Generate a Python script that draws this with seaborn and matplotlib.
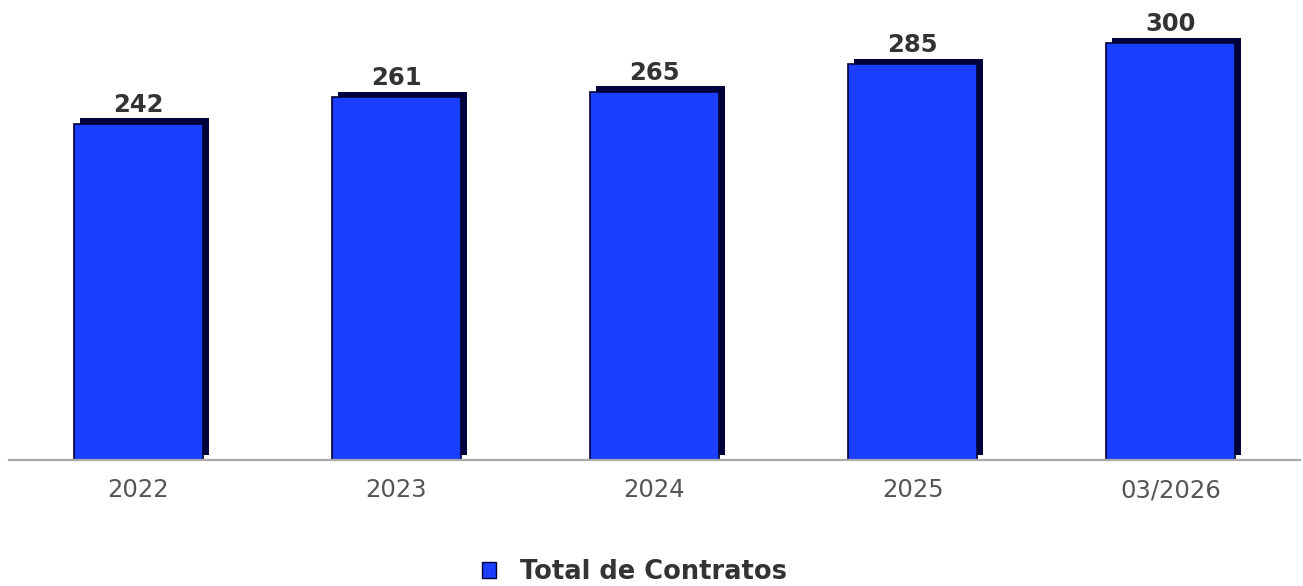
import pandas as pd
import matplotlib.pyplot as plt
import matplotlib.patheffects as pe
from matplotlib.patches import Patch
import seaborn as sns

# --- dados ---
periodos = ['2022', '2023', '2024', '2025', '03/2026']
total_contratos = [242, 261, 265, 285, 300]

df = pd.DataFrame({'Período': periodos, 'Total de Contratos': total_contratos})

sns.set_style('white')
plt.rcParams['font.family'] = ['DejaVu Sans']

azul = '#1b3fff'
sombra = '#00003c'

fig = plt.figure(figsize=(13.03, 5.86), dpi=100)
ax = fig.add_axes([9 / 1303, 126 / 586, 1291 / 1303, 460 / 586])

sns.barplot(data=df, x='Período', y='Total de Contratos', color=azul,
            width=0.5, saturation=1, edgecolor='#000033', linewidth=1.2, ax=ax)

# efeito 3D: sombra deslocada para cima/direita
for barra in ax.patches:
    barra.set_path_effects([
        pe.SimplePatchShadow(offset=(4.3, 3.8), shadow_rgbFace=sombra, alpha=1),
        pe.Normal(),
    ])

ax.bar_label(ax.containers[0], fmt='%d', padding=5, fontsize=17.5,
             fontweight='bold', color='#333333')

ax.set_xlim(-0.5, 4.5)
ax.set_ylim(0, 331)
ax.set_xlabel('')
ax.set_ylabel('')
ax.set_yticks([])
for lado in ['top', 'right', 'left']:
    ax.spines[lado].set_visible(False)
ax.spines['bottom'].set_color('#aaaaaa')
ax.spines['bottom'].set_linewidth(1.6)
ax.tick_params(axis='x', length=0, pad=13, labelsize=17.5, labelcolor='#555555')

handle = Patch(facecolor=azul, edgecolor='#000033', linewidth=1)
fig.legend([handle], ['Total de Contratos'], loc='center',
           bbox_to_anchor=(0.487, 0.024), frameon=False, handlelength=0.55,
           handleheight=0.55, handletextpad=0.95,
           prop={'size': 18.5, 'weight': 'bold'}, labelcolor='#333333')

fig.savefig('out.png', dpi=100)
